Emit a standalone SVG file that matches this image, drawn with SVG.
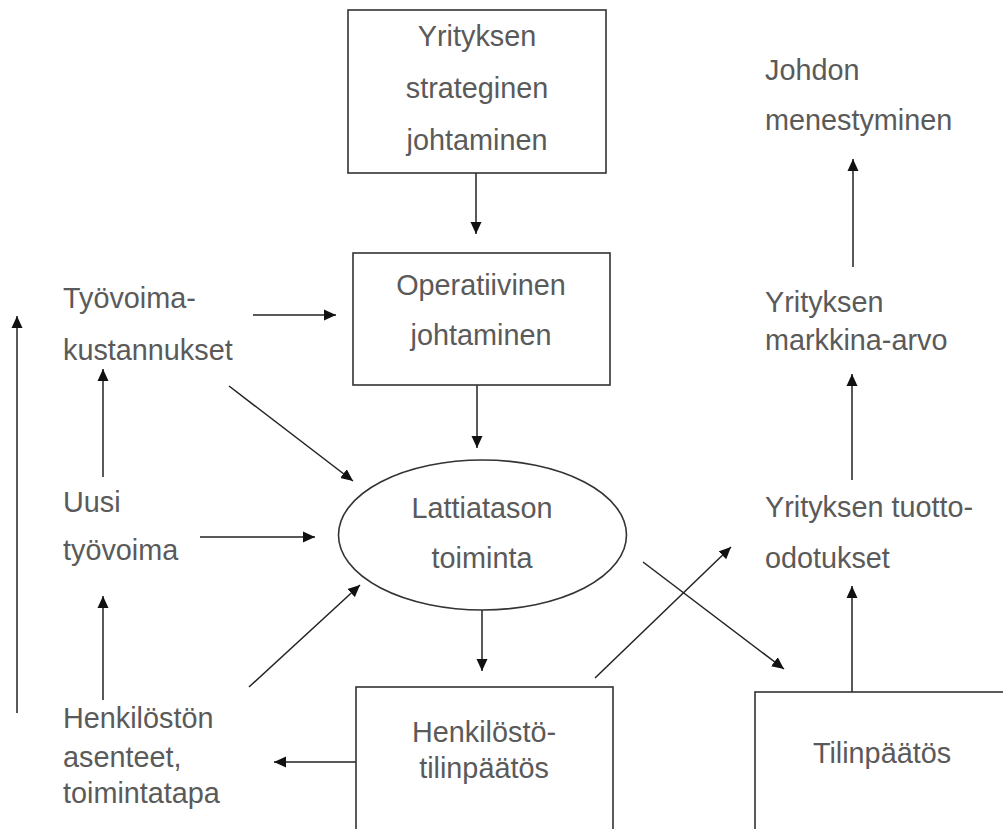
<svg xmlns="http://www.w3.org/2000/svg" width="1003" height="829" viewBox="0 0 1003 829">
<style>
.box{fill:#fff;stroke:#333;stroke-width:1.6}
.t{font-family:"Liberation Sans",Arial,sans-serif;font-size:28.8px;fill:#5a5a5a}
.m{text-anchor:middle}
.c{stroke:#222;stroke-width:1.5;fill:none;marker-end:url(#ah)}
</style>
<defs>
<marker id="ah" markerUnits="userSpaceOnUse" markerWidth="13" markerHeight="12" refX="12" refY="5.5" orient="auto" viewBox="0 0 13 11">
<path d="M0,0 L12,5.5 L0,11 z" fill="#111"/>
</marker>
</defs>
<rect width="1003" height="829" fill="#fff"/>
<g id="connectors">
<line class="c" x1="476" y1="173" x2="476" y2="234"/>
<line class="c" x1="477" y1="385" x2="477" y2="448"/>
<line class="c" x1="253" y1="315" x2="336" y2="315"/>
<line class="c" x1="229" y1="386" x2="353" y2="481"/>
<line class="c" x1="200" y1="537" x2="315" y2="537"/>
<line class="c" x1="249" y1="687" x2="360" y2="585"/>
<line class="c" x1="103" y1="477" x2="103" y2="369"/>
<line class="c" x1="103" y1="700" x2="103" y2="596"/>
<line class="c" x1="17" y1="713" x2="17" y2="316"/>
<line class="c" x1="482" y1="610" x2="482" y2="671"/>
<line class="c" x1="356" y1="762" x2="274" y2="762"/>
<line class="c" x1="595" y1="678" x2="731" y2="547"/>
<line class="c" x1="643" y1="562" x2="784" y2="669"/>
<line class="c" x1="852" y1="692" x2="852" y2="586"/>
<line class="c" x1="852" y1="480" x2="852" y2="374"/>
<line class="c" x1="853" y1="267" x2="853" y2="159"/>
</g>
<g id="strateginen">
<rect class="box" x="348" y="10" width="258" height="163"/>
<text class="t m" x="477" y="46">Yrityksen</text>
<text class="t m" x="477" y="98">strateginen</text>
<text class="t m" x="477" y="150">johtaminen</text>
</g>
<g id="operatiivinen">
<rect class="box" x="353" y="253" width="257" height="132"/>
<text class="t m" x="481" y="295">Operatiivinen</text>
<text class="t m" x="481" y="345">johtaminen</text>
</g>
<g id="lattiataso">
<ellipse class="box" cx="482.5" cy="535" rx="144" ry="75"/>
<text class="t m" x="482" y="518">Lattiatason</text>
<text class="t m" x="482" y="568">toiminta</text>
</g>
<g id="henkilostotilinpaatos">
<rect class="box" x="356" y="687" width="257" height="160"/>
<text class="t m" x="484" y="742">Henkilöstö-</text>
<text class="t m" x="484" y="778">tilinpäätös</text>
</g>
<g id="tilinpaatos">
<rect class="box" x="755" y="692" width="260" height="160"/>
<text class="t m" x="882" y="763">Tilinpäätös</text>
</g>
<g id="tyovoimakustannukset">
<text class="t" x="63" y="308">Työvoima-</text>
<text class="t" x="63" y="360">kustannukset</text>
</g>
<g id="uusityovoima">
<text class="t" x="63" y="512">Uusi</text>
<text class="t" x="63" y="560">työvoima</text>
</g>
<g id="asenteet">
<text class="t" x="63" y="728">Henkilöstön</text>
<text class="t" x="63" y="767">asenteet,</text>
<text class="t" x="63" y="803">toimintatapa</text>
</g>
<g id="johdonmenestyminen">
<text class="t" x="765" y="80">Johdon</text>
<text class="t" x="765" y="130">menestyminen</text>
</g>
<g id="markkinaarvo">
<text class="t" x="765" y="312">Yrityksen</text>
<text class="t" x="765" y="350">markkina-arvo</text>
</g>
<g id="tuotto-odotukset">
<text class="t" x="765" y="517">Yrityksen tuotto-</text>
<text class="t" x="765" y="568">odotukset</text>
</g>
</svg>
